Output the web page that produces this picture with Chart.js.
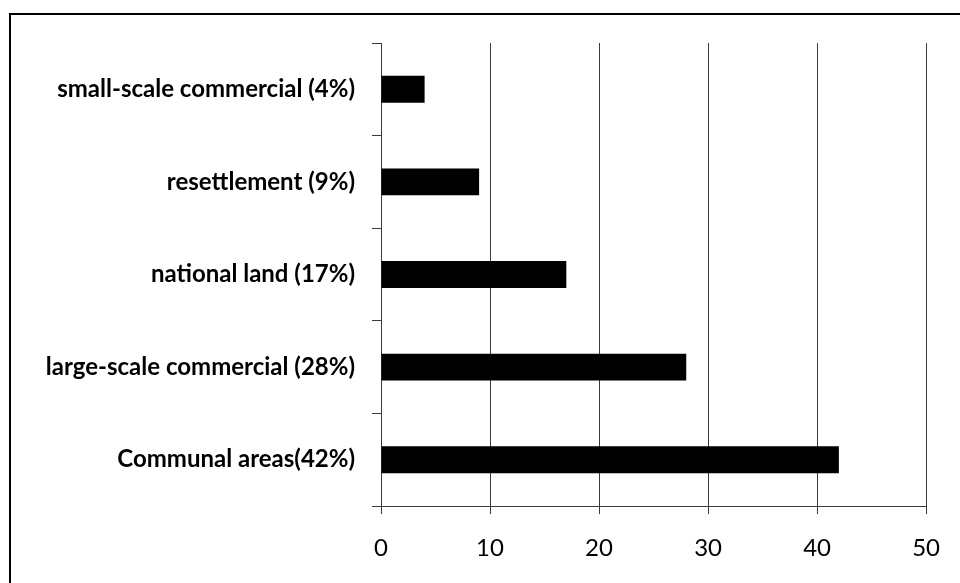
<!DOCTYPE html>
<html lang="en">
<head>
    <meta charset="UTF-8">
    <title>Land categories</title>
    <script src="https://cdn.jsdelivr.net/npm/chart.js"></script>
    <style>
        body {
            margin: 0;
            background-color: #fff;
            overflow: hidden;
        }
        #frame {
            position: absolute;
            left: 9px;
            top: 13px;
            width: 1000px;
            height: 600px;
            border-left: 2px solid #000;
            border-top: 2px solid #000;
        }
        #myChart {
            position: absolute;
            left: 0;
            top: 0;
        }
    </style>
</head>
<body>
    <div id="frame"></div>
    <canvas id="myChart" width="960" height="583"></canvas>

    <script>
        // categories, top to bottom
        var categories = [
            'small-scale commercial (4%)',
            'resettlement (9%)',
            'national land (17%)',
            'large-scale commercial (28%)',
            'Communal areas(42%)'
        ];
        var values = [4, 9, 17, 28, 42];
        var xTicks = [0, 10, 20, 30, 40, 50];

        var lineColor = '#3a3a3a';
        var fontFamily = 'Lato, "Open Sans", sans-serif';

        var ctx = document.getElementById('myChart').getContext('2d');
        var myChart = new Chart(ctx, {
            type: 'bar',
            data: {
                labels: categories,
                datasets: [{
                    data: values,
                    backgroundColor: '#000',
                    borderWidth: 0,
                    barPercentage: 0.29,
                    categoryPercentage: 1
                }]
            },
            options: {
                indexAxis: 'y',
                responsive: false,
                animation: false,
                layout: {
                    padding: { top: 43, right: 32, bottom: 0, left: 0 }
                },
                plugins: {
                    legend: { display: false },
                    tooltip: { enabled: false }
                },
                scales: {
                    x: {
                        min: xTicks[0],
                        max: xTicks[xTicks.length - 1],
                        afterBuildTicks: function (scale) {
                            scale.ticks = xTicks.map(function (v) { return { value: v }; });
                        },
                        afterFit: function (scale) { scale.height = 77; },
                        grid: {
                            color: lineColor,
                            lineWidth: 1,
                            tickLength: 8
                        },
                        border: { display: true, color: lineColor, width: 1 },
                        ticks: {
                            color: '#000',
                            padding: 20,
                            font: { family: fontFamily, size: 24 }
                        }
                    },
                    y: {
                        afterFit: function (scale) { scale.width = 381; },
                        grid: {
                            drawOnChartArea: false,
                            color: lineColor,
                            tickLength: 9,
                            offset: true
                        },
                        border: { display: true, color: lineColor, width: 1 },
                        ticks: {
                            color: '#000',
                            padding: 17,
                            font: { family: fontFamily, size: 24, weight: 'bold' }
                        }
                    }
                }
            }
        });
    </script>
</body>
</html>
